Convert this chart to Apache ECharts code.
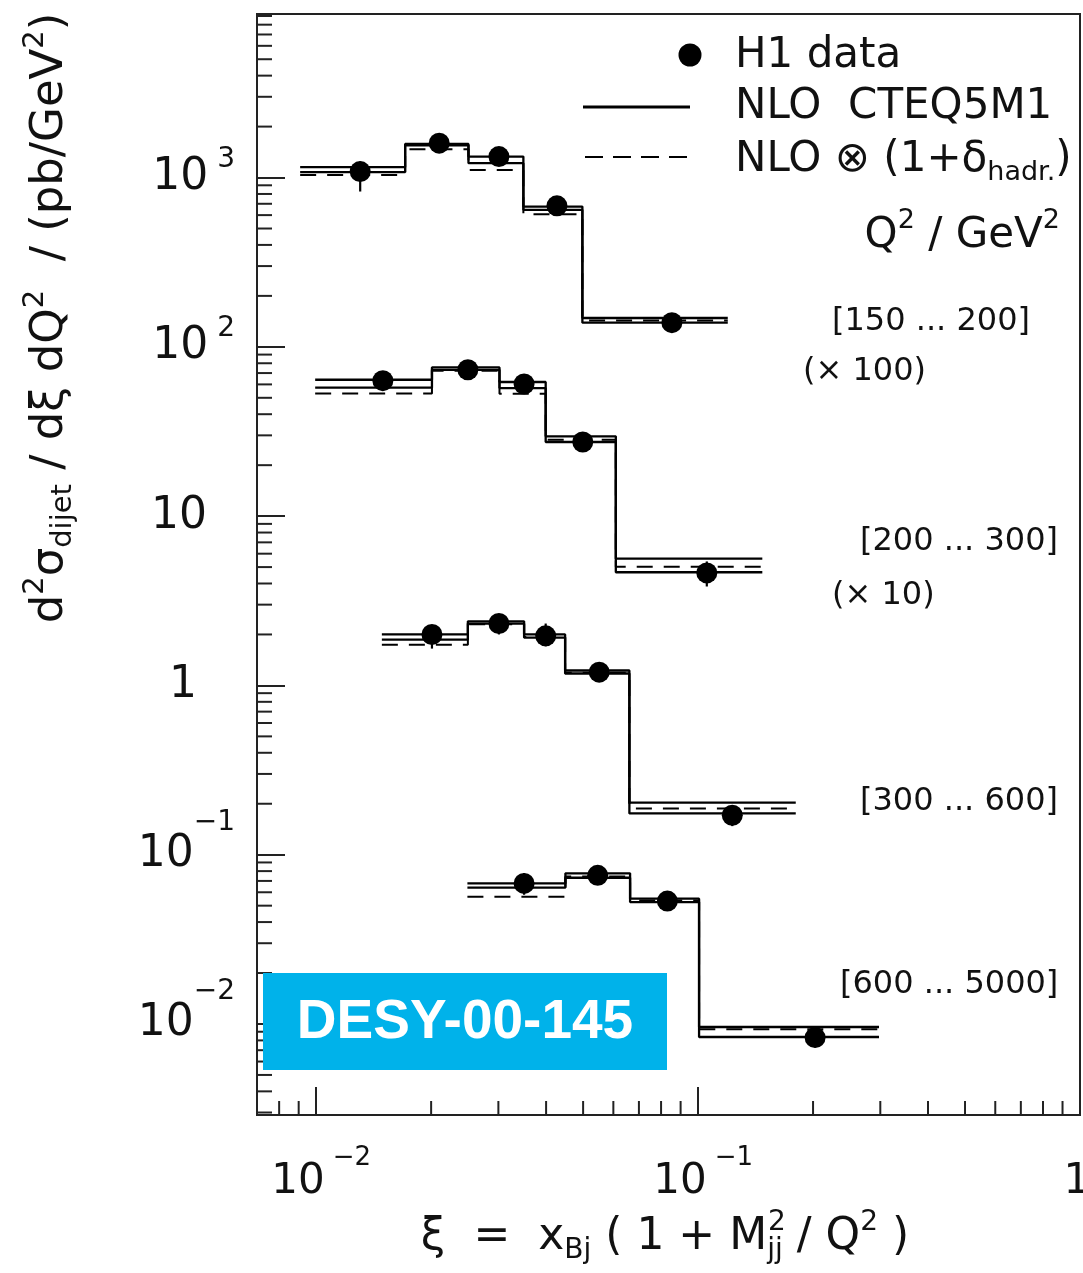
<!DOCTYPE html>
<html><head><meta charset="utf-8">
<script src="https://cdn.jsdelivr.net/npm/echarts@6/dist/echarts.min.js"></script>
<style>html,body{margin:0;padding:0;background:#fff}#c{width:1083px;height:1273px}</style>
</head><body><div id="c"></div>
<script>
// ---------------- data ----------------
const xTickValues = [0.01, 0.1, 1];
const xTickLabels = [['10', '\u22122'], ['10', '\u22121'], ['1', '']];
const yTickValues = [0.01, 0.1, 1, 10, 100, 1000];
const yTickLabels = [['10', '\u22122'], ['10', '\u22121'], ['1', ''], ['10', ''], ['10', ' 2'], ['10', ' 3']];

const q2Bins = ['[150 ... 200]', '[200 ... 300]', '[300 ... 600]', '[600 ... 5000]'];
const q2Scale = ['(\u00d7 100)', '(\u00d7 10)', '', ''];

// Q2 in [150,200]  (values shown x100)
const edges1 = [0.00908, 0.0171, 0.02505, 0.03488, 0.04978, 0.1196];
const nloUp1 = [1152, 1581, 1330, 674, 148];
const nloLo1 = [1076, 1550, 1216, 645, 139];
const nloHad1 = [1037, 1471, 1110, 608, 143];
const xi1 = [0.01304, 0.0210, 0.0301, 0.0427, 0.0854];
const h1_1 = [1085, 1596, 1330, 681, 139];
const errLo1 = [827, 1480, 1230, 630, 121];
const errHi1 = [1243, 1720, 1440, 735, 155];

// Q2 in [200,300]  (values shown x10)
const edges2 = [0.00994, 0.0201, 0.0302, 0.0399, 0.0609, 0.1473];
const nloUp2 = [63.9, 75.6, 62.0, 29.6, 5.61];
const nloLo2 = [57.4, 73.2, 57.1, 27.4, 4.66];
const nloHad2 = [53.1, 72.2, 52.9, 28.3, 5.03];
const xi2 = [0.01495, 0.02496, 0.03503, 0.0499, 0.1054];
const h1_2 = [63.1, 73.2, 60.3, 27.4, 4.62];
const errLo2 = [55, 67, 55, 25, 3.84];
const errHi2 = [70, 80, 66, 30, 5.4];

// Q2 in [300,600]
const edges3 = [0.01486, 0.02496, 0.03503, 0.04486, 0.06609, 0.1802];
const nloUp3 = [2.00, 2.39, 2.00, 1.225, 0.2028];
const nloLo3 = [1.866, 2.32, 1.918, 1.176, 0.1753];
const nloHad3 = [1.736, 2.30, 1.93, 1.19, 0.1876];
const xi3 = [0.0201, 0.0301, 0.0399, 0.0551, 0.1229];
const h1_3 = [2.00, 2.32, 1.963, 1.197, 0.171];
const errLo3 = [1.65, 2.0, 1.7, 1.08, 0.1475];
const errHi3 = [2.2, 2.6, 2.32, 1.32, 0.195];

// Q2 in [600,5000]
const edges4 = [0.02489, 0.04494, 0.06637, 0.1006, 0.2977];
const nloUp4 = [0.0677, 0.0776, 0.0550, 0.00960];
const nloLo4 = [0.0639, 0.0731, 0.0525, 0.00838];
const nloHad4 = [0.0565, 0.0744, 0.0537, 0.00930];
const xi4 = [0.03503, 0.0546, 0.0831, 0.2025];
const h1_4 = [0.0677, 0.0755, 0.0532, 0.00831];
const errLo4 = [0.058, 0.068, 0.048, 0.00726];
const errHi4 = [0.078, 0.084, 0.059, 0.0095];

const X_MIN = 0.007, X_MAX = 1;
const Y_MIN = 0.0029, Y_MAX = 9250;

// ---------------- helpers ----------------
const FONT = 'DejaVu Sans';
const INK = '#111';
function stepData(edges, vals) {
  const d = vals.map((v, i) => [edges[i], v]);
  d.push([edges[edges.length - 1], vals[vals.length - 1]]);
  return d;
}
function stepSeries(name, edges, vals, dashed) {
  return {
    name, type: 'line', step: 'end', symbol: 'none', z: 2, silent: true,
    data: stepData(edges, vals),
    lineStyle: { color: '#000', width: dashed ? 2 : 2.3, type: dashed ? [16, 11] : 'solid' }
  };
}
function pointSeries(xs, ys) {
  return {
    name: 'H1 data', type: 'scatter', symbol: 'circle', symbolSize: 21, z: 5,
    itemStyle: { color: '#000', opacity: 1 }, data: xs.map((x, i) => [x, ys[i]])
  };
}
function errSeries(xs, ys, lo, hi) {
  return {
    type: 'custom', z: 4, silent: true,
    data: xs.map((x, i) => [x, ys[i], lo[i], hi[i]]),
    encode: { x: 0, y: 1 },
    renderItem(params, api) {
      const a = api.coord([api.value(0), api.value(2)]);
      const b = api.coord([api.value(0), api.value(3)]);
      return { type: 'line', shape: { x1: a[0], y1: a[1], x2: b[0], y2: b[1] },
               style: { stroke: '#000', lineWidth: 2.2 } };
    }
  };
}
function findLabel(v, vals, labels) {
  for (let i = 0; i < vals.length; i++) {
    if (Math.abs(Math.log10(v) - Math.log10(vals[i])) < 1e-6) return labels[i];
  }
  return null;
}
// minor ticks (2..9 x 10^k) for a log axis
function minorValues(lo, hi) {
  const out = [];
  for (let k = Math.floor(Math.log10(lo)); k <= Math.ceil(Math.log10(hi)); k++) {
    for (let m = 2; m <= 9; m++) {
      const v = m * Math.pow(10, k);
      if (v > lo * 1.0001 && v < hi * 0.9999) out.push(v);
    }
  }
  return out;
}
function minorTickSeries(axis) {
  const vals = axis === 'x' ? minorValues(X_MIN, X_MAX) : minorValues(Y_MIN, Y_MAX);
  return {
    type: 'custom', silent: true, z: 6, clip: false,
    data: vals.map(v => axis === 'x' ? [v, 1] : [0.1, v]),
    encode: { x: 0, y: 1 },
    renderItem(params, api) {
      const cs = params.coordSys;
      if (axis === 'x') {
        const px = api.coord([api.value(0), 1])[0];
        const yb = cs.y + cs.height;
        return { type: 'line', shape: { x1: px, y1: yb, x2: px, y2: yb - 14 },
                 style: { stroke: '#222', lineWidth: 2 } };
      }
      const py = api.coord([0.1, api.value(1)])[1];
      return { type: 'line', shape: { x1: cs.x, y1: py, x2: cs.x + 15, y2: py },
               style: { stroke: '#222', lineWidth: 2 } };
    }
  };
}

const series = [];
[[edges1, nloUp1, nloLo1, nloHad1, xi1, h1_1, errLo1, errHi1],
 [edges2, nloUp2, nloLo2, nloHad2, xi2, h1_2, errLo2, errHi2],
 [edges3, nloUp3, nloLo3, nloHad3, xi3, h1_3, errLo3, errHi3],
 [edges4, nloUp4, nloLo4, nloHad4, xi4, h1_4, errLo4, errHi4]].forEach(s => {
  series.push(stepSeries('NLO CTEQ5M1', s[0], s[1], false));
  series.push(stepSeries('NLO CTEQ5M1 (2)', s[0], s[2], false));
  series.push(stepSeries('NLO x (1+delta hadr.)', s[0], s[3], true));
  series.push(errSeries(s[4], s[5], s[6], s[7]));
  series.push(pointSeries(s[4], s[5]));
});
series.push(minorTickSeries('x'));
series.push(minorTickSeries('y'));

// ---------------- text / annotations ----------------
const sup = (fs, p) => ({ fontSize: fs, fontFamily: FONT, fill: INK, padding: [0, 0, p, 0] });
const sub = (fs, p) => ({ fontSize: fs, fontFamily: FONT, fill: INK, padding: [p, 0, 0, 0] });
const main = fs => ({ fontSize: fs, fontFamily: FONT, fill: INK });

function txt(x, y, text, fs, align, rich) {
  return { type: 'text', x, y, z: 20, silent: true,
    style: { text, fontSize: fs, fontFamily: FONT, fill: INK, align: align || 'left',
             verticalAlign: 'middle', rich: rich || undefined } };
}

const graphic = [
  // legend
  { type: 'circle', shape: { cx: 690, cy: 55, r: 11.5 }, style: { fill: '#000' }, z: 20 },
  txt(735, 56, 'H1 data', 42),
  { type: 'line', shape: { x1: 583, y1: 107, x2: 690, y2: 107 }, style: { stroke: '#000', lineWidth: 3 }, z: 20 },
  txt(735, 107, 'NLO  CTEQ5M1', 42),
  { type: 'line', shape: { x1: 585, y1: 157, x2: 690, y2: 157 }, style: { stroke: '#000', lineWidth: 2, lineDash: [18, 10] }, z: 20 },
  txt(735, 160, '{m|NLO \u2297 (1+\u03b4}{s|hadr.}{m|)}', 42, 'left', { m: main(42), s: sub(27, 26) }),
  txt(1060, 236, '{m|Q}{p|2}{m| / GeV}{p|2}', 42, 'right', { m: main(42), p: sup(27, 30) }),
  // Q2 bin labels
  txt(832, 322, q2Bins[0], 32),
  txt(803, 372, q2Scale[0], 32),
  txt(860, 542, q2Bins[1], 32),
  txt(832, 596, q2Scale[1], 32),
  txt(860, 802, q2Bins[2], 32),
  txt(840, 985, q2Bins[3], 32),
  // axis titles
  { type: 'text', x: 50, y: 318, rotation: Math.PI / 2, z: 20, silent: true,
    style: { text: '{m|d}{p|2}{m|\u03c3}{s|dijet}{m| / d\u03be dQ}{p|2}{m|  / (pb/GeV}{p|2}{m|)}',
             align: 'center', verticalAlign: 'middle', fontSize: 45, fontFamily: FONT, fill: INK,
             rich: { m: main(45), p: sup(29, 30), s: sub(29, 26) } } },
  { type: 'text', x: 665, y: 1238, z: 20, silent: true,
    style: { text: '{m|\u03be  =  x}{s|Bj}{m| ( 1 + M}{s|jj}{m| / Q}{p|2}{m| )}',
             align: 'center', verticalAlign: 'middle', fontSize: 44, fontFamily: FONT, fill: INK,
             rich: { m: main(44), p: sup(28, 30), s: sub(28, 26) } } },
  { type: 'text', x: 768, y: 1223, z: 20, silent: true,
    style: { text: '2', align: 'left', verticalAlign: 'middle', fontSize: 28, fontFamily: FONT, fill: INK } },
  // DESY stamp
  { type: 'rect', shape: { x: 263, y: 973, width: 404, height: 97 }, style: { fill: '#00B2EA' }, z: 30 },
  { type: 'text', x: 465, y: 1023, z: 31, silent: true,
    style: { text: 'DESY-00-145', fill: '#fff', fontSize: 55, fontWeight: 'bold',
             fontFamily: 'Liberation Sans', align: 'center', verticalAlign: 'middle' } }
];

const option = {
  animation: false,
  backgroundColor: '#fff',
  grid: { left: 257, top: 14, width: 823, height: 1101, show: true, borderColor: '#222', borderWidth: 2,
          backgroundColor: 'transparent', containLabel: false, outerBoundsMode: 'none' },
  xAxis: {
    type: 'log', logBase: 10, min: X_MIN, max: X_MAX,
    axisLine: { show: true, lineStyle: { color: '#222', width: 2 } },
    axisTick: { show: true, inside: true, length: 28, lineStyle: { color: '#222', width: 2 } },
    minorTick: { show: false }, splitLine: { show: false },
    axisLabel: {
      margin: 30, color: INK, hideOverlap: false,
      formatter: v => { const l = findLabel(v, xTickValues, xTickLabels); return l ? '{b|' + l[0] + '}{e|' + (l[1] || ' ') + '}' : ''; },
      rich: { b: { fontSize: 42, fontFamily: FONT, color: INK, padding: [0, 0, 0, 10] },
              e: { fontSize: 26, fontFamily: FONT, color: INK, padding: [0, 0, 48, 8] } }
    }
  },
  yAxis: {
    type: 'log', logBase: 10, min: Y_MIN, max: Y_MAX,
    axisLine: { show: true, lineStyle: { color: '#222', width: 2 } },
    axisTick: { show: true, inside: true, length: 28, lineStyle: { color: '#222', width: 2 } },
    minorTick: { show: false }, splitLine: { show: false },
    axisLabel: {
      margin: 22, color: INK,
      formatter: v => {
        const l = findLabel(v, yTickValues, yTickLabels);
        if (!l) return '';
        if (!l[1]) return l[0] === '1' ? '{b3|1}' : '{b2|' + l[0] + '}';
        return '{b|' + l[0] + '}' + (l[1].charAt(0) === ' ' ? '{ep|' : '{en|') + l[1] + '}';
      },
      rich: { b: { fontSize: 44, fontFamily: FONT, color: INK },
              b2: { fontSize: 44, fontFamily: FONT, color: INK, padding: [0, 28, 0, 0] },
              b3: { fontSize: 44, fontFamily: FONT, color: INK, padding: [0, 38, 0, 0] },
              ep: { fontSize: 28, fontFamily: FONT, color: INK, padding: [0, 0, 36, 0] },
              en: { fontSize: 28, fontFamily: FONT, color: INK, padding: [0, 0, 64, 0] } }
    }
  },
  series,
  graphic
};

const chart = echarts.init(document.getElementById('c'), null, { renderer: 'canvas', width: 1083, height: 1273 });
chart.setOption(option);
</script>
</body></html>
